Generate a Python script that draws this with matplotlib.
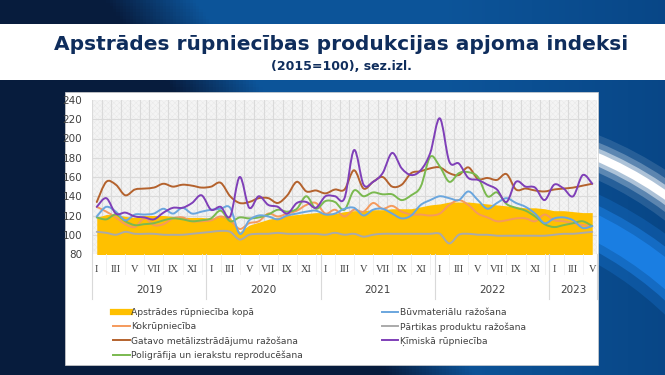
import numpy as np
import matplotlib
matplotlib.use("Agg")
import matplotlib.pyplot as plt
from matplotlib.path import Path
from matplotlib.patches import PathPatch, Rectangle, Circle
from matplotlib.lines import Line2D
import matplotlib.transforms as mtransforms

# monthly data, Jan 2019 - May 2023
years = ["2019", "2020", "2021", "2022", "2023"]
year_months = [12, 12, 12, 12, 5]
month_labels = ["I", "", "III", "", "V", "", "VII", "", "IX", "", "XI", ""]

total = [118, 121, 121, 119, 118, 120, 120, 120, 119, 118, 118, 118,
         117, 119, 118, 103, 110, 113, 116, 118, 120, 121, 122, 123,
         123, 122, 124, 125, 125, 126, 126, 127, 127, 127, 129, 131,
         132, 134, 134, 134, 133, 132, 131, 130, 129, 128, 128, 127,
         125, 125, 124, 123, 123]
koks = [129, 124, 118, 111, 108, 117, 110, 111, 117, 118, 114, 114,
        115, 119, 115, 106, 112, 114, 122, 119, 122, 125, 131, 133,
        122, 126, 119, 126, 124, 133, 127, 130, 124, 121, 121, 120,
        122, 131, 136, 131, 122, 118, 114, 115, 117, 117, 114, 121,
        115, 114, 112, 110, 109]
metal = [134, 155, 152, 141, 147, 148, 149, 153, 150, 152, 151, 149,
         150, 154, 140, 133, 134, 138, 138, 133, 141, 155, 145, 146,
         143, 147, 147, 167, 148, 155, 160, 150, 152, 164, 166, 169,
         170, 164, 162, 170, 158, 159, 157, 163, 147, 148, 146, 145,
         147, 148, 149, 151, 153]
poligr = [118, 116, 121, 114, 110, 111, 112, 115, 117, 116, 114, 115,
          117, 125, 114, 118, 117, 118, 121, 126, 124, 127, 140, 127,
          135, 134, 126, 146, 140, 144, 142, 142, 136, 141, 150, 181,
          171, 155, 164, 165, 160, 140, 144, 132, 128, 125, 119, 111,
          108, 110, 112, 114, 109]
buvmat = [119, 129, 124, 115, 121, 121, 122, 127, 122, 128, 122, 124,
          126, 127, 128, 101, 115, 120, 119, 116, 120, 122, 124, 125,
          121, 122, 127, 128, 120, 126, 127, 122, 117, 120, 131, 136,
          140, 138, 136, 145, 136, 127, 133, 138, 133, 129, 122, 112,
          117, 118, 115, 107, 109]
partika = [103, 102, 100, 103, 101, 101, 101, 100, 100, 100, 101, 102,
           103, 104, 103, 95, 100, 101, 101, 102, 101, 101, 101, 101,
           100, 102, 100, 101, 98, 100, 101, 101, 101, 101, 101, 101,
           101, 91, 100, 101, 100, 100, 99, 99, 99, 99, 99, 99,
           100, 101, 101, 102, 103]
kimija = [129, 138, 122, 123, 119, 118, 116, 123, 128, 128, 133, 141,
          126, 129, 119, 160, 128, 140, 131, 129, 122, 133, 134, 128,
          140, 140, 138, 188, 152, 155, 164, 185, 169, 162, 167, 185,
          221, 176, 174, 159, 157, 152, 147, 134, 155, 150, 149, 136,
          152, 148, 140, 162, 153]

lines = [
    ("Kokrūpniecība", koks, "#F59A5C"),
    ("Gatavo metālizstrādājumu ražošana", metal, "#B4622D"),
    ("Poligrāfija un ierakstu reproducēšana", poligr, "#7AB94F"),
    ("Būvmateriālu ražošana", buvmat, "#6AA6DE"),
    ("Pārtikas produktu ražošana", partika, "#AAAAAA"),
    ("Ķīmiskā rūpniecība", kimija, "#7F3FB8"),
]


def smooth_path(x, y):
    # excel-like smoothed line (catmull-rom as bezier)
    pts = np.column_stack([x, y]).astype(float)
    n = len(pts)
    verts = [pts[0]]
    codes = [Path.MOVETO]
    for k in range(n - 1):
        p0 = pts[k - 1] if k > 0 else pts[k]
        p1 = pts[k]
        p2 = pts[k + 1]
        p3 = pts[k + 2] if k + 2 < n else pts[k + 1]
        verts += [p1 + (p2 - p0) / 6, p2 - (p3 - p1) / 6, p2]
        codes += [Path.CURVE4] * 3
    return Path(verts, codes)


W, H = 665, 375
fig = plt.figure(figsize=(W / 100, H / 100), dpi=100)

# background slide
bg = fig.add_axes([0, 0, 1, 1], zorder=0)
bg.set_xlim(0, W)
bg.set_ylim(H, 0)
bg.axis("off")
gx, gy = np.meshgrid(np.linspace(0, W, 200), np.linspace(0, H, 120))
t = np.clip((gx - (105 + 0.75 * gy)) / 90, 0, 1)
dark = np.array([0.03, 0.11, 0.24])
blue = np.array([0.05, 0.33, 0.60])
img = dark[None, None, :] * (1 - t[..., None]) + blue[None, None, :] * t[..., None]
r = np.clip((gx - 450) / 215, 0, 1)[..., None]
img = img * (1 - 0.35 * r) + np.array([0.0, 0.18, 0.40]) * 0.35 * r
bg.imshow(img, extent=(0, W, H, 0), aspect="auto", zorder=0)
clip = Rectangle((598, 82), W - 598, H - 82, transform=bg.transData)
for lw, a in [(30, 0.12), (20, 0.25), (12, 0.5), (6, 1.0)]:
    c = bg.add_patch(Circle((450, 502), 375, fill=False, lw=lw, ec="white", alpha=a, zorder=1))
    c.set_clip_path(clip)
for lw, a in [(45, 0.25), (30, 0.5), (18, 0.85)]:
    c = bg.add_patch(Circle((425, 565), 378, fill=False, lw=lw, ec="#1c82e8", alpha=a, zorder=1))
    c.set_clip_path(clip)
bg.add_patch(Rectangle((0, 24), W, 56, fc="white", ec="none", zorder=2))
bg.add_patch(Rectangle((65, 92), 533, 273, fc="white", ec="#d0d0d0", lw=0.5, zorder=2))

fig.text(341 / W, 1 - 45 / H, "Apstrādes rūpniecības produkcijas apjoma indeksi",
         ha="center", va="center", fontsize=14.5, fontweight="bold", color="#0f2d5c", zorder=5)
fig.text(341 / W, 1 - 67 / H, "(2015=100), sez.izl.",
         ha="center", va="center", fontsize=9, fontweight="bold", color="#0f2d5c", zorder=5)

# chart
plt.rcParams["hatch.linewidth"] = 0.35
ax = fig.add_axes([92 / W, 1 - 254 / H, 505 / W, 154 / H], zorder=3)
n = len(total)
x = np.arange(n)
ax.set_facecolor("#f4f4f4")
ax.add_patch(Rectangle((0, 0), 1, 1, transform=ax.transAxes, fc="none", ec="#e8e8e8",
                       hatch="xxxxxx", lw=0, zorder=0))
for b in np.arange(-0.5, n, 1):
    ax.axvline(b, color="#dadada", lw=0.8, zorder=1)
for v in range(100, 240, 20):
    ax.axhline(v, color="#dadada", lw=0.8, zorder=1)

ax.fill_between(x, 0, total, color="#FFC000", lw=0, zorder=2)
for name, vals, col in lines:
    ax.add_patch(PathPatch(smooth_path(x, vals), fc="none", ec=col, lw=1.4,
                           capstyle="round", joinstyle="round", zorder=3))

ax.set_xlim(-0.5, n - 0.5)
ax.set_ylim(80, 240)
ax.set_yticks(range(80, 241, 20))
for s in ax.spines.values():
    s.set_visible(False)
ax.tick_params(axis="y", length=0, pad=7, labelsize=7.5, labelcolor="#404040")

mlabels = []
for ym in year_months:
    mlabels += month_labels[:ym]
ax.set_xticks(x)
ax.set_xticklabels(mlabels, fontsize=7.5, family="Liberation Serif", color="#404040")
ax.tick_params(axis="x", length=0, pad=8)

trans = mtransforms.blended_transform_factory(ax.transData, ax.transAxes)
start = -0.5
for yr, ym in zip(years, year_months):
    ax.text(start + ym / 2, -0.235, yr, transform=trans, ha="center", va="center",
            fontsize=7.5, color="#404040")
    start += ym
bounds = np.cumsum([0] + year_months) - 0.5
for b in bounds:
    ax.plot([b, b], [0, -0.29], transform=trans, color="#d9d9d9", lw=0.8, clip_on=False)
for b in np.arange(1, n - 1, 2):
    ax.plot([b, b], [0, -0.13], transform=trans, color="#eeeeee", lw=0.6, clip_on=False)

# legend
col1 = [("Apstrādes rūpniecība kopā", "#FFC000", 4.5)] + [(nm, c, 1.4) for nm, _, c in lines[:3]]
col2 = [(nm, c, 1.4) for nm, _, c in lines[3:]]
for items, x0 in [(col1, 113), (col2, 382)]:
    hs = [Line2D([], [], color=c, lw=lw) for _, c, lw in items]
    leg = fig.legend(hs, [nm for nm, _, _ in items], loc="upper left",
                     bbox_to_anchor=(x0 / W, 1 - 308 / H), frameon=False,
                     fontsize=6.6, handlelength=1.8, handletextpad=0.15,
                     labelspacing=0.55, borderaxespad=0, borderpad=0)
    for tx in leg.get_texts():
        tx.set_color("#404040")
    leg.set_zorder(5)

fig.savefig("out.png", dpi=100)
